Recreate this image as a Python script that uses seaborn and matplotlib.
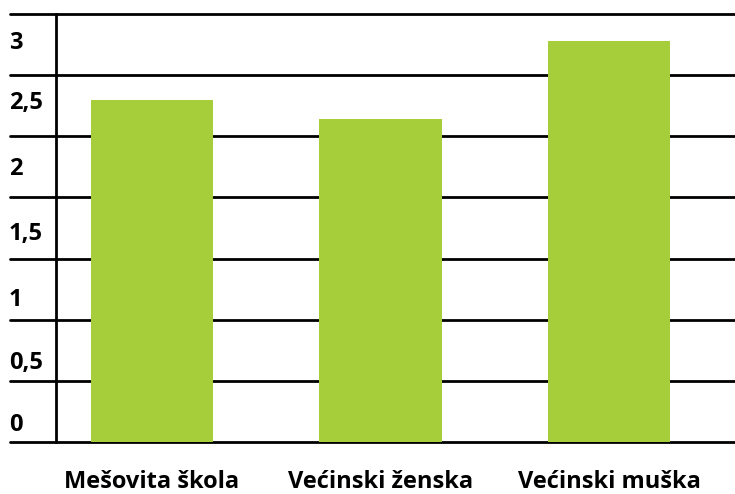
import matplotlib.pyplot as plt
import pandas as pd
import seaborn as sns
from matplotlib.transforms import blended_transform_factory

categories = ["Mešovita škola", "Većinski ženska", "Većinski muška"]
values = [2.80, 2.64, 3.28]
grid_values = [0, 0.5, 1, 1.5, 2, 2.5, 3, 3.5]
tick_labels = ["0", "0,5", "1", "1,5", "2", "2,5", "3"]
# labels sit a bit above their gridline in the reference
label_pos = [0.14, 0.65, 1.16, 1.70, 2.23, 2.77, 3.26]

GREEN = "#A6CD3A"

sns.set_theme(style="white")
plt.rcParams["font.family"] = ["Open Sans", "DejaVu Sans"]

df = pd.DataFrame({"group": categories, "value": values})

fig = plt.figure(figsize=(7.35, 4.94), dpi=100)
ax = fig.add_axes([56 / 735, 1 - 442 / 494, 679 / 735, 428 / 494])

sns.barplot(data=df, x="group", y="value", color=GREEN, saturation=1, width=0.535,
            edgecolor="none", ax=ax, zorder=3)

ax.set_xlim(-0.42, 2.55)
ax.set_ylim(0, 3.5)

for g in grid_values:
    ax.axhline(g, xmin=-46 / 679, xmax=1, color="black", lw=2, clip_on=False, zorder=1)

for sp in ["top", "right", "bottom"]:
    ax.spines[sp].set_visible(False)
ax.spines["left"].set_color("black")
ax.spines["left"].set_linewidth(2)
ax.spines["left"].set_zorder(4)

ax.set_yticks([])
trans = blended_transform_factory(fig.transFigure, ax.transData)
for pos, lab in zip(label_pos, tick_labels):
    ax.text(9 / 735, pos, lab, transform=trans, ha="left", va="center",
            fontsize=17, fontweight="bold", color="black")

ax.tick_params(axis="x", length=0, pad=20)
for t in ax.get_xticklabels():
    t.set_fontsize(17)
    t.set_fontweight("bold")
    t.set_color("black")
ax.set_xlabel("")
ax.set_ylabel("")

fig.savefig("out.png", dpi=100)
